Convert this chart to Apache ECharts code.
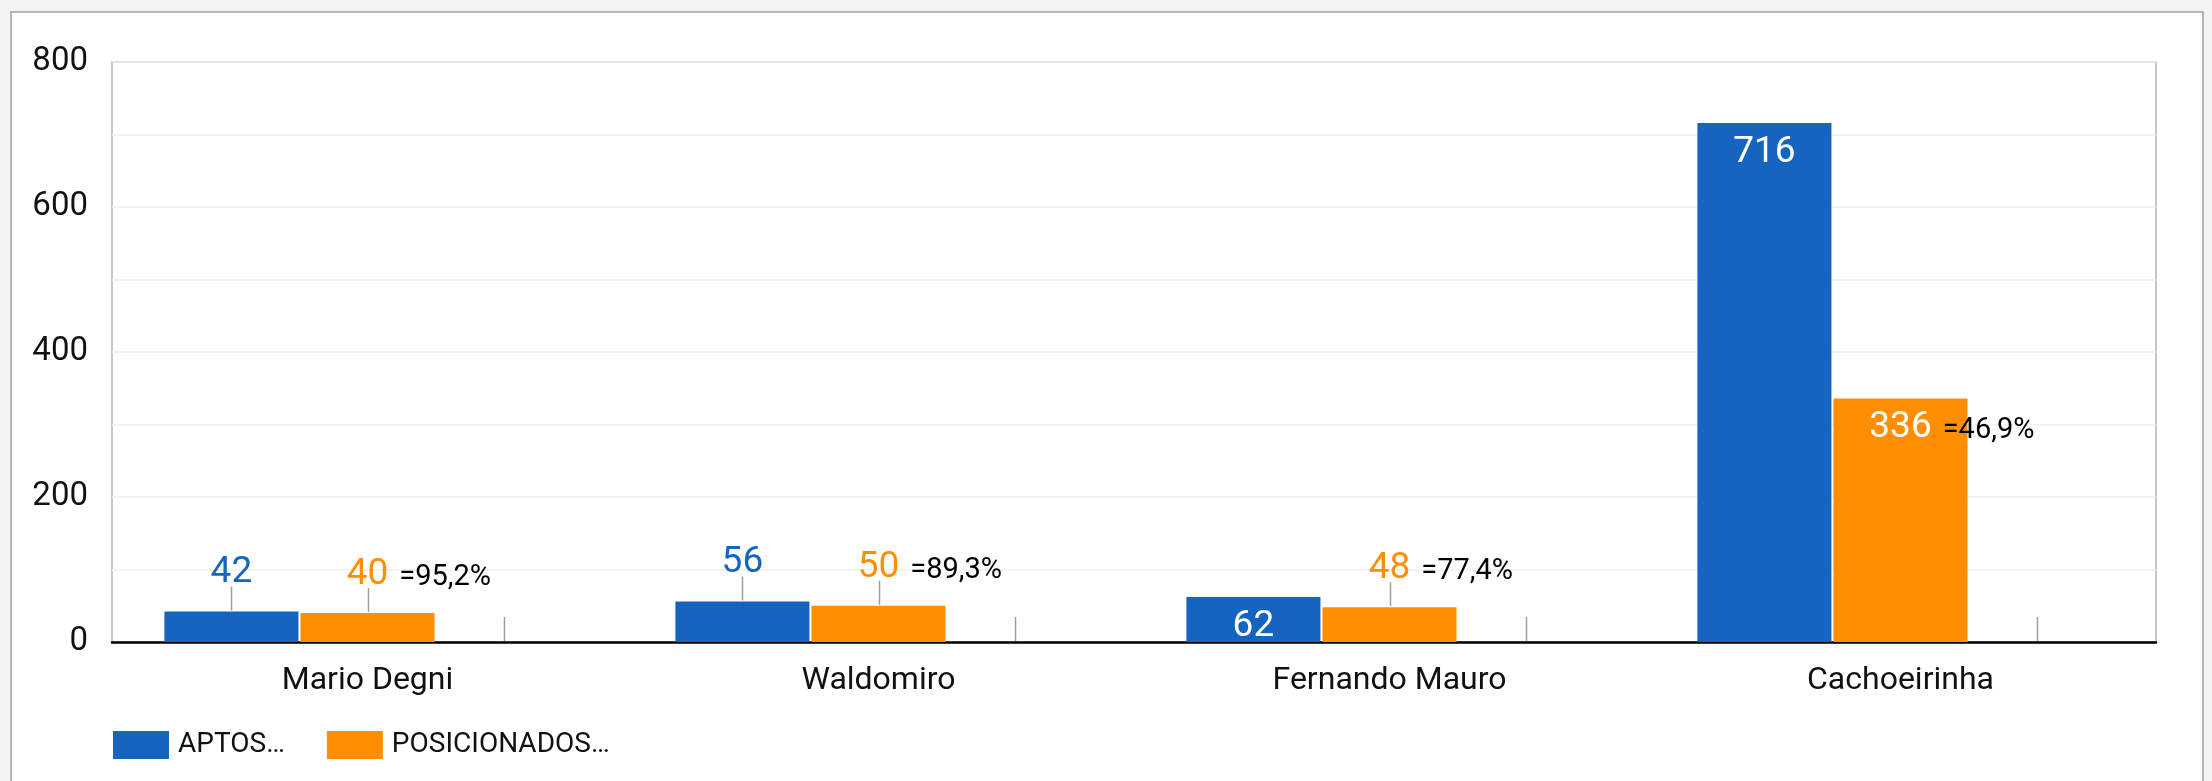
<!DOCTYPE html>
<html>
<head>
<meta charset="utf-8">
<script src="https://cdn.jsdelivr.net/npm/echarts@6/dist/echarts.min.js"></script>
<style>
  html, body { margin: 0; padding: 0; background: #f4f4f4; overflow: hidden; }
  #frame {
    position: absolute; left: 10px; top: 11px; width: 2190px; height: 800px;
    background: #fff; border: 2px solid #b7b7b7;
  }
  #chart { position: absolute; left: 0; top: 0; width: 2212px; height: 781px; }
</style>
</head>
<body>
<div id="frame"></div>
<div id="chart"></div>
<script>
const categories = ['Mario Degni', 'Waldomiro', 'Fernando Mauro', 'Cachoeirinha']
const aptos = [42, 56, 62, 716]
const posicionados = [40, 50, 48, 336]
const percentLabels = ['=95,2%', '=89,3%', '=77,4%', '=46,9%']
const ratioSeries = [0, 0, 0, 0]
const legendNames = ['APTOS…', 'POSICIONADOS…']

const BLUE = '#1565c0'
const ORANGE = '#ff8f00'
const FONT = 'Roboto'
const catGap = 0.205
const barGap = 0.015
// labels go inside the bar once it is tall enough
const insideMin = 60

const chartInstance = echarts.init(document.getElementById('chart'))

const valueLabel = (color, v) => {
  const inside = v >= insideMin
  return {
    show: true,
    position: inside ? 'insideTop' : 'top',
    distance: inside ? 11 : 20,
    color: inside ? '#fff' : color,
    fontFamily: FONT,
    fontSize: 37,
    lineHeight: 37
  }
}

const blueData = aptos.map(v => ({ value: v, label: valueLabel(BLUE, v) }))
const orangeData = posicionados.map((v, i) => {
  const lb = valueLabel(ORANGE, v)
  lb.formatter = `{h|${percentLabels[i]}}{v|${v}}{p|${percentLabels[i]}}`
  lb.rich = {
    v: { fontFamily: FONT, fontSize: 37, lineHeight: 37, color: lb.color },
    p: { fontFamily: FONT, fontSize: 29, lineHeight: 37, color: '#000', padding: [6, 0, 0, 11] },
    h: { fontFamily: FONT, fontSize: 29, lineHeight: 37, color: 'transparent', padding: [6, 11, 0, 0] }
  }
  return { value: v, label: lb }
})

// stems under outside labels, and for the zero series
const stems = []
aptos.forEach((v, i) => { if (v < insideMin) stems.push([i, v, 0]) })
posicionados.forEach((v, i) => { if (v < insideMin) stems.push([i, v, 1]) })
ratioSeries.forEach((v, i) => stems.push([i, v, 2]))

const option = {
  animation: false,
  textStyle: { fontFamily: FONT },
  grid: { left: 112, right: 56, top: 62, bottom: 139, show: true, borderColor: '#b7b7b7', borderWidth: 1.5 },
  legend: {
    left: 108,
    top: 726,
    icon: 'rect',
    itemWidth: 56,
    itemHeight: 28,
    itemGap: 42,
    data: legendNames,
    textStyle: { fontFamily: FONT, fontSize: 28, color: '#111', padding: [0, 0, 0, 4] }
  },
  xAxis: {
    type: 'category',
    data: categories,
    axisLine: { lineStyle: { color: '#000', width: 2.5 } },
    axisTick: { show: false },
    axisLabel: { color: '#111', fontFamily: FONT, fontSize: 32, margin: 23 }
  },
  yAxis: {
    type: 'value',
    min: 0,
    max: 800,
    interval: 200,
    axisLine: { show: false },
    axisTick: { show: false },
    axisLabel: { color: '#111', fontFamily: FONT, fontSize: 33, margin: 24 },
    splitLine: { lineStyle: { color: '#efefef', width: 1.5 } },
    minorTick: { show: false, splitNumber: 2 },
    minorSplitLine: { show: true, lineStyle: { color: '#efefef', width: 1.5 } }
  },
  series: [
    {
      name: legendNames[0],
      type: 'bar',
      data: blueData,
      itemStyle: { color: BLUE },
      barCategoryGap: (catGap * 100) + '%',
      barGap: (barGap * 100) + '%'
    },
    {
      name: legendNames[1],
      type: 'bar',
      data: orangeData,
      itemStyle: { color: ORANGE }
    },
    {
      name: 'ratio',
      type: 'bar',
      data: ratioSeries,
      itemStyle: { color: 'transparent' },
      silent: true
    },
    {
      type: 'custom',
      data: stems,
      encode: { x: 0, y: 1 },
      z: 5,
      silent: true,
      renderItem: function (params, api) {
        const p = api.coord([api.value(0), api.value(1)])
        const band = api.size([1, 0])[0]
        const bw = band * (1 - catGap) / (3 + 2 * barGap)
        const x = Math.round(p[0] + (api.value(2) - 1) * bw * (1 + barGap)) + 0.5
        return {
          type: 'line',
          shape: { x1: x, y1: p[1] - 1, x2: x, y2: p[1] - 25 },
          style: { stroke: '#9e9e9e', lineWidth: 1.5 }
        }
      }
    }
  ]
}

chartInstance.setOption(option)
</script>
</body>
</html>
